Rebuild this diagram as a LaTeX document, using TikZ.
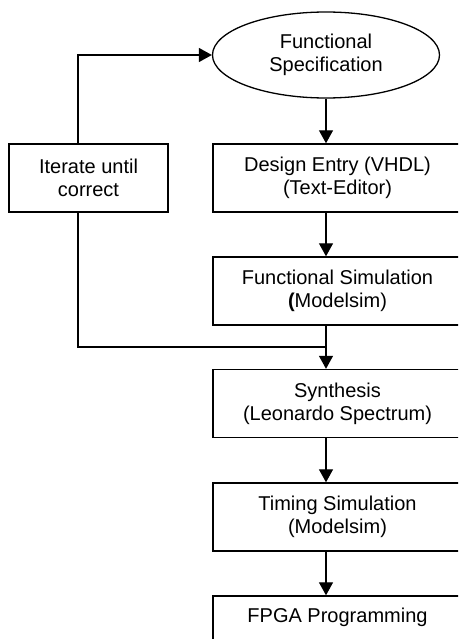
\documentclass[tikz,border=0pt]{standalone}
\usepackage{fontspec}
\setmainfont{Liberation Sans}
\usetikzlibrary{shapes.geometric,arrows.meta}
\begin{document}
\begin{tikzpicture}[x=1pt,y=-1pt,
  every node/.style={font=\fontsize{20}{23}\selectfont, align=center, inner sep=0pt},
  flowbox/.style={draw, line width=1.4pt, rectangle, minimum width=249pt, minimum height=68pt},
  sidebox/.style={draw, line width=1.4pt, rectangle, minimum width=159pt, minimum height=68pt},
  startnode/.style={draw, line width=1.3pt, ellipse, minimum width=227pt, minimum height=86pt},
  conn/.style={line width=1.3pt},
  arr/.style={conn, -{Triangle[length=13pt,width=14pt]}}]
\clip (0,0) rectangle (458,639);
\node[startnode] (spec) at (326,55) {Functional\\Specification};
\node[flowbox] (de) at (337.5,178) {Design Entry (VHDL)\\(Text-Editor)};
\node[sidebox] (it) at (88.5,178) {Iterate until\\correct};
\node[flowbox] (fs) at (337.5,291) {Functional Simulation\\\textbf{(}Modelsim)};
\node[flowbox] (syn) at (337.5,403.5) {Synthesis\\(Leonardo Spectrum)};
\node[flowbox] (tim) at (337.5,517) {Timing Simulation\\(Modelsim)};
\node[flowbox] (fpga) at (337.5,630) {FPGA Programming\\\strut};
\coordinate (itx) at (78,178);
\coordinate (join) at (326,347);
\draw[arr] (spec.south) -- (spec.south |- de.north);
\draw[arr] (spec.south |- de.south) -- (spec.south |- fs.north);
\draw[arr] (spec.south |- fs.south) -- (spec.south |- syn.north);
\draw[arr] (spec.south |- syn.south) -- (spec.south |- tim.north);
\draw[arr] (spec.south |- tim.south) -- (spec.south |- fpga.north);
\draw[arr] (itx |- it.north) |- (spec.west);
\draw[conn] (itx |- it.south) |- (join);
\end{tikzpicture}
\end{document}
